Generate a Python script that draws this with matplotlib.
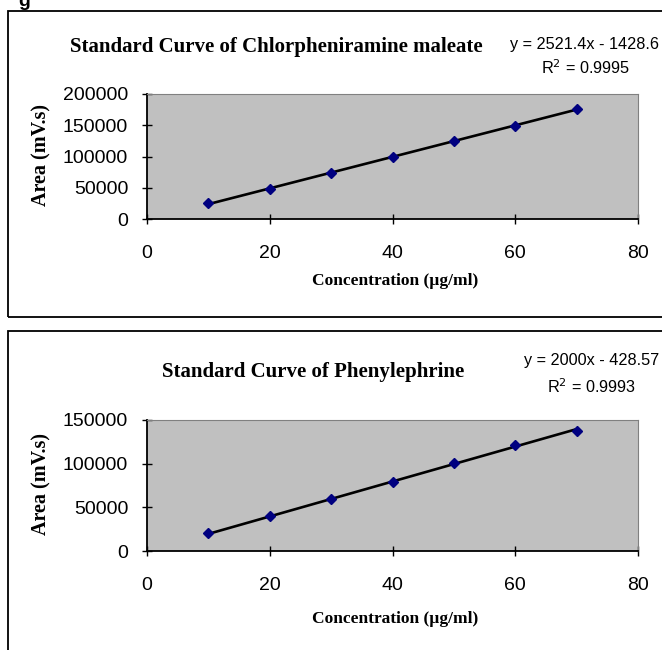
import matplotlib.pyplot as plt
from matplotlib.patches import Rectangle

plt.rcParams['font.family'] = 'Liberation Sans'

conc = [10, 20, 30, 40, 50, 60, 70]
area_cpm = [25000, 48000, 73500, 98500, 125500, 149500, 175500]
area_phe = [20500, 39800, 59200, 79400, 101300, 121000, 137800]
fit_cpm = (2521.4, -1428.6)
fit_phe = (2000, -428.57)

W, H = 662, 650
fig = plt.figure(figsize=(W / 100, H / 100), dpi=100)


def px(x0, y0, x1, y1):
    # pixel box (top-left origin) -> figure fraction
    return [x0 / W, 1 - y1 / H, (x1 - x0) / W, (y1 - y0) / H]


def panel(box, ax_box, x, y, fit, ymax, ystep, title, title_xy, eq, eq_xy, r2, r2_xy, ylab_y, xlab_y):
    fig.patches.append(Rectangle((box[0] / W, 1 - box[3] / H), (box[2] - box[0]) / W,
                                 (box[3] - box[1]) / H, transform=fig.transFigure,
                                 fill=False, ec='black', lw=1.3))
    ax = fig.add_axes(px(*ax_box))
    ax.set_facecolor('#c0c0c0')
    xs = [min(x), max(x)]
    ax.plot(xs, [fit[0] * v + fit[1] for v in xs], color='black', lw=1.9, zorder=2)
    ax.plot(x, y, 'D', color='#000080', ms=5, zorder=3)
    ax.set_xlim(0, 80)
    ax.set_ylim(0, ymax)
    ax.set_xticks(range(0, 81, 20))
    ax.set_yticks(range(0, ymax + 1, ystep))
    ax.tick_params(direction='inout', length=7, width=1, labelsize=14)
    ax.tick_params(axis='y', pad=10)
    ax.tick_params(axis='x', pad=15)
    for s in ['top', 'right']:
        ax.spines[s].set_color('#808080')
    for s in ['left', 'bottom']:
        ax.spines[s].set_linewidth(1.3)
    fig.text(title_xy[0] / W, 1 - title_xy[1] / H, title, family='Liberation Serif',
             weight='bold', fontsize=15, ha='center', va='center')
    fig.text(eq_xy[0] / W, 1 - eq_xy[1] / H, eq, fontsize=11.7, ha='center', va='center')
    fig.text(r2_xy[0] / W, 1 - r2_xy[1] / H, r2, fontsize=11.7, ha='center', va='center')
    fig.text(41 / W, 1 - ylab_y / H, 'Area (mV.s)', family='Liberation Serif', weight='bold',
             fontsize=14.5, rotation=90, ha='center', va='center')
    fig.text(395 / W, 1 - xlab_y / H, 'Concentration (µg/ml)', family='Liberation Serif',
             weight='bold', fontsize=12.5, ha='center', va='center')
    return ax


fig.text(18 / W, 1 - 1 / H, 'g', family='Liberation Sans', weight='bold', fontsize=14,
         ha='left', va='center')

panel((8, 11, 700, 317), (147, 94, 638, 219), conc, area_cpm, fit_cpm, 200000, 50000,
      'Standard Curve of Chlorpheniramine maleate', (276, 47),
      'y = 2521.4x - 1428.6', (585, 45), 'R$^2$ = 0.9995', (586, 68), 155, 281)

panel((8, 331, 700, 700), (147, 420, 638, 551), conc, area_phe, fit_phe, 150000, 50000,
      'Standard Curve of Phenylephrine', (313, 372),
      'y = 2000x - 428.57', (592, 361), 'R$^2$ = 0.9993', (592, 387), 484, 619)

fig.savefig('out.png', dpi=100)
